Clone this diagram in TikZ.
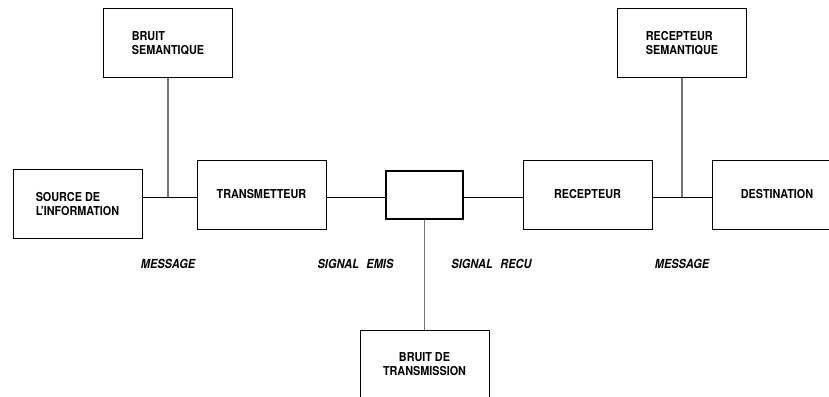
\documentclass[tikz,border=0pt]{standalone}
\usepackage{fontspec}
\setmainfont{TeX Gyre Heros}[FakeStretch=0.88]
\begin{document}
\begin{tikzpicture}[x=1pt,y=-1pt,
  box/.style={draw=black,line width=0.9pt,rectangle,inner sep=0pt,
    minimum width=129pt,minimum height=69pt,align=left,
    font=\fontsize{12.3}{14}\selectfont\bfseries},
  chan/.style={draw=black,line width=2pt,rectangle,inner sep=0pt,
    minimum width=77pt,minimum height=48pt},
  hline/.style={draw=black,line width=0.9pt},
  vline/.style={draw=black!55,line width=1.6pt},
  lab/.style={font=\fontsize{12.5}{14}\selectfont\bfseries\itshape,inner sep=0pt}]
\clip (0,0) rectangle (829,396);
\fill[white] (0,0) rectangle (829,396);
% boxes
\node[box] (bs)  at (168,43)    {BRUIT\\SEMANTIQUE};
\node[box] (src) at (77.5,204)  {SOURCE DE\\L'INFORMATION};
\node[box] (tr)  at (261.5,194.5) {TRANSMETTEUR};
\node[chan] (mid) at (424.5,195) {};
\node[box] (rec) at (587.5,194.5) {RECEPTEUR};
\node[box] (rs)  at (682,43)    {RECEPTEUR\\SEMANTIQUE};
\node[box] (dest) at (777,194.5) {DESTINATION};
\node[box,align=center] (bt) at (424.5,364.5) {BRUIT DE\\TRANSMISSION};
% junctions
\coordinate (j1) at (168,197);
\coordinate (j2) at (682,197);
% connectors
\draw[hline] (src.east |- j1) -- (tr.west |- j1);
\draw[hline] (tr.east |- j1) -- (mid.west |- j1);
\draw[hline] (mid.east |- j1) -- (rec.west |- j1);
\draw[hline] (rec.east |- j2) -- (dest.west |- j2);
\draw[vline] (bs.south) -- (j1);
\draw[vline] (rs.south) -- (j2);
\draw[vline] (mid.south) -- (bt.north);
% labels
\node[lab] (m1) at (168,264) {MESSAGE};
\node[lab] (se) at (355.5,264) {SIGNAL\hspace{0.6em}EMIS};
\node[lab] (sr) at (491.5,264) {SIGNAL\hspace{0.6em}RECU};
\node[lab] (m2) at (682,264) {MESSAGE};
\end{tikzpicture}
\end{document}
